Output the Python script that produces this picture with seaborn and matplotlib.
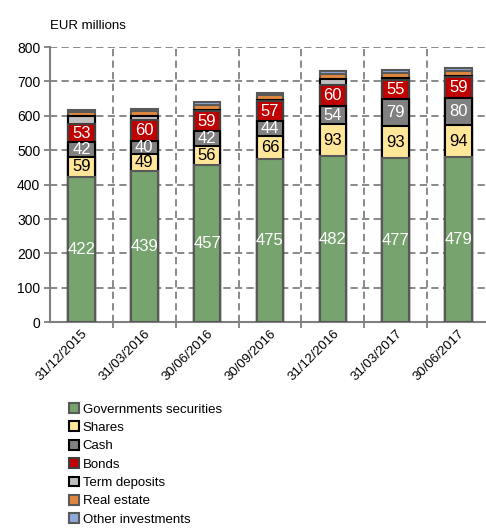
import numpy as np
import pandas as pd
import matplotlib
matplotlib.use("Agg")
import matplotlib.pyplot as plt
from matplotlib.patches import Patch
from matplotlib.ticker import MultipleLocator, FixedLocator
import seaborn as sns

# data (EUR millions)
dates = ["31/12/2015", "31/03/2016", "30/06/2016", "30/09/2016",
         "31/12/2016", "31/03/2017", "30/06/2017"]
gov_securities = [422, 439, 457, 475, 482, 477, 479]
shares = [59, 49, 56, 66, 93, 93, 94]
cash = [42, 40, 42, 44, 54, 79, 80]
bonds = [53, 60, 59, 57, 60, 55, 59]
term_deposits = [24, 12, 4, 4, 18, 5, 4]
real_estate = [11, 14, 14, 14, 14, 15, 15]
other_investments = [7, 7, 7, 7, 8, 8, 8]

series_names = ["Governments securities", "Shares", "Cash", "Bonds",
                "Term deposits", "Real estate", "Other investments"]
series_values = [gov_securities, shares, cash, bonds,
                 term_deposits, real_estate, other_investments]
fills = ["#76A36E", "#FFE699", "#808080", "#C00000",
         "#BFBFBF", "#E0873F", "#8EA9DB"]
edges = ["#595959", "#000000", "#000000", "#404040",
         "#000000", "#595959", "#595959"]
label_colors = ["white", "black", "white", "white", None, None, None]

plt.rcParams["font.family"] = ["Liberation Sans", "DejaVu Sans"]
narrow = ["Liberation Sans Narrow", "Liberation Sans", "DejaVu Sans"]

df = pd.DataFrame({"date": dates})
cum = np.zeros(len(dates))
tops = []
for vals in series_values:
    cum = cum + np.array(vals)
    tops.append(cum.copy())

fig = plt.figure(figsize=(4.86, 5.29), dpi=100)
ax = fig.add_axes([0.103, 0.391, 0.905, 0.52])

# stacked bars: draw cumulative totals from the top layer down
for i in reversed(range(len(series_values))):
    df["top"] = tops[i]
    sns.barplot(data=df, x="date", y="top", order=dates, color=fills[i],
                saturation=1, width=0.42, errorbar=None, ax=ax,
                edgecolor=edges[i], linewidth=1.5, zorder=3)

# value labels
for i in range(4):
    vals = np.array(series_values[i])
    centers = tops[i] - vals / 2
    for x, (v, c) in enumerate(zip(vals, centers)):
        ax.text(x, c, str(v), ha="center", va="center", fontsize=12,
                color=label_colors[i], family=narrow, zorder=5)

ax.set_xlim(-0.5, 6.5)
ax.set_ylim(0, 800)
ax.yaxis.set_major_locator(MultipleLocator(100))
ax.xaxis.set_minor_locator(FixedLocator(np.arange(0.5, 7, 1)))

grid_kw = dict(color="#808080", linewidth=1.3, linestyle=(0, (4, 2.4)))
ax.grid(axis="y", which="major", **grid_kw)
ax.grid(axis="x", which="minor", **grid_kw)
ax.set_axisbelow(True)

for s in ["top", "right"]:
    ax.spines[s].set_visible(False)
for s in ["left", "bottom"]:
    ax.spines[s].set_color("#808080")
    ax.spines[s].set_linewidth(1.5)

ax.tick_params(axis="y", length=4, width=1.3, color="#808080",
               labelsize=10, pad=3)
ax.tick_params(axis="x", which="major", length=0, pad=4)
ax.tick_params(axis="x", which="minor", length=4, width=1.3,
               color="#808080")
ax.set_xticks(range(len(dates)))
ax.set_xticklabels(dates, rotation=45, ha="right", va="top",
                   rotation_mode="anchor", fontsize=9.5)
ax.set_xlabel("")
ax.set_ylabel("")

ax.text(0.0, 1.075, "EUR millions", transform=ax.transAxes,
        fontsize=9.5, ha="left", va="center")

handles = [Patch(facecolor=f, edgecolor=e, linewidth=1.5)
           for f, e in zip(fills, edges)]
fig.legend(handles, series_names, loc="upper left",
           bbox_to_anchor=(0.143, 0.238), frameon=False, fontsize=9.5,
           handlelength=0.75, handleheight=0.75, handletextpad=0.25,
           labelspacing=0.45, borderaxespad=0, borderpad=0)

fig.savefig("out.png", dpi=100)
